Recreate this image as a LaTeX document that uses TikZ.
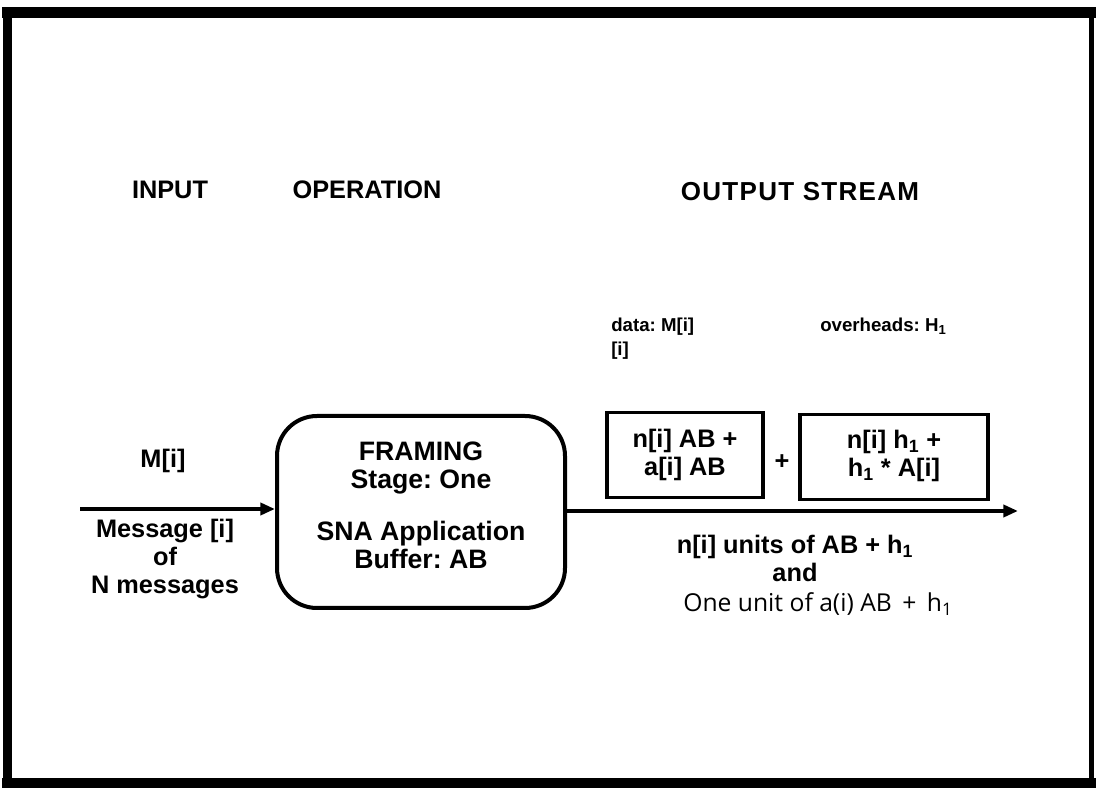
\documentclass[tikz,border=0pt]{standalone}
\usepackage{fontspec}
\setmainfont{Liberation Sans}
\newfontfamily\plainfont{Open Sans}
\usetikzlibrary{arrows.meta}
\frenchspacing
\begin{document}
\begin{tikzpicture}[x=0.75pt,y=-0.75pt,
  head/.style={font=\bfseries\fontsize{19}{21}\selectfont, inner sep=0pt, anchor=base},
  big/.style={font=\bfseries\fontsize{19}{21}\selectfont, inner sep=0pt, align=center},
  small/.style={font=\bfseries\fontsize{14}{18}\selectfont, inner sep=0pt, anchor=base west},
  plain/.style={font=\plainfont\fontsize{18.5}{21}\selectfont, inner sep=0pt, align=center},
  opbox/.style={draw, line width=3pt, rounded corners=30pt, minimum width=216pt, minimum height=144pt},
  sqbox/.style={draw, line width=2.6pt, minimum height=64pt},
  flow/.style={line width=2.8pt, -{Triangle[length=11pt,width=9pt]}}
]
\useasboundingbox (0,0) rectangle (1097,791);
\fill[white] (0,0) rectangle (1097,791);
% outer frame
\draw[line width=8pt, line cap=rect] (7,12.5) -- (1091,12.5);
\draw[line width=7pt, line cap=rect] (7.5,12.5) -- (7.5,783);
\draw[line width=3.5pt, line cap=rect] (1091.5,12.5) -- (1091.5,783);
\draw[line width=7.5pt, line cap=rect] (7,783) -- (1091,783);
% headers
\node[head] (hin) at (170,199) {INPUT};
\node[head] (hop) at (367,199) {OPERATION};
\node[head, font=\bfseries\fontsize{19.5}{21}\selectfont\addfontfeature{LetterSpace=5}] (hout) at (800,201) {OUTPUT STREAM};
% operation box
\node[opbox] (op) at (421,512) {};
\node[big, font=\bfseries\fontsize{20}{21}\selectfont] (opt) at (421,505) {FRAMING\\Stage: One\\[18pt]SNA Application\\Buffer: AB};
% input arrow
\coordinate (inS) at (80,509);
\draw[flow] (inS) -- (op.west |- inS);
\node[big] (mi) at (163,461) {M[i]};
\node[big] (msg) at (165,559) {Message [i]\\of\\N messages};
% output stream
\coordinate (outE) at (1018,511);
\draw[flow] (op.east |- outE) -- (outE);
\node[small] (data) at (611,332) {data: M[i]};
\node[small] (data2) at (611,356) {[i]};
\node[small] (ovh) at (820,332) {overheads: H\textsubscript{1}};
\node[sqbox, minimum width=117pt] (b1) at (685,455) {};
\node[big] (b1t) at (685,455) {n[i] AB +\\a[i] AB};
\node[big] (plus) at (782,462) {+};
\node[sqbox, minimum width=141pt] (b2) at (894,457) {};
\node[big] (b2t) at (894,456) {n[i] h\textsubscript{1} +\\h\textsubscript{1} * A[i]};
\node[big] (u1) at (795,558) {n[i] units of AB + h\textsubscript{1}\\and};
\node[plain] (u2) at (818,604) {One unit of a(i) AB\, +\, h\textsubscript{1}};
\end{tikzpicture}
\end{document}
